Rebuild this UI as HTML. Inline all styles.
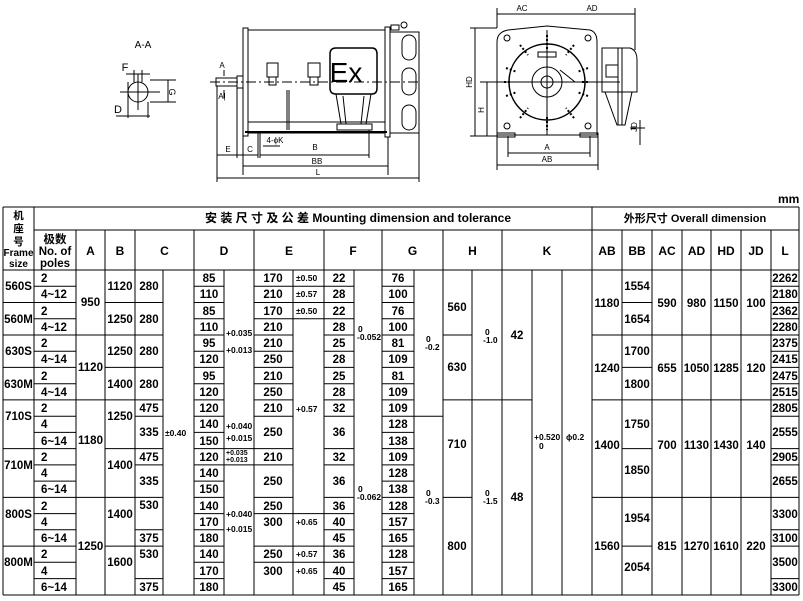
<!DOCTYPE html>
<html><head><meta charset="utf-8"><style>
html,body{margin:0;padding:0;background:#fff;}
svg{display:block;}
text{font-family:"Liberation Sans","Noto Sans CJK SC",sans-serif;font-weight:bold;fill:#000;}
.t{font-size:11.5px;text-anchor:middle;}
.p{font-size:11.5px;}
.s{font-size:8.5px;}
.h{font-size:12px;text-anchor:middle;}
.d{font-size:8px;font-weight:normal;text-anchor:middle;}
</style></head><body>
<svg width="803" height="601" viewBox="0 0 803 601" xmlns="http://www.w3.org/2000/svg">
<!-- ===== DRAWINGS ===== -->
<g stroke="#000" fill="none" stroke-width="1">
<!-- A-A section -->
<circle cx="138" cy="92" r="10"/>
<line x1="120" y1="92" x2="160" y2="92"/>
<line x1="138" y1="74" x2="138" y2="110"/>
<line x1="134" y1="70" x2="134" y2="82"/><line x1="142" y1="70" x2="142" y2="82"/>
<line x1="126" y1="74" x2="150" y2="74"/>
<line x1="150" y1="80" x2="176" y2="80"/><line x1="150" y1="102" x2="176" y2="102"/>
<line x1="168" y1="80" x2="168" y2="102"/>
<line x1="128" y1="82" x2="128" y2="118"/><line x1="148" y1="102" x2="148" y2="118"/>
<line x1="116" y1="116" x2="150" y2="116"/>
<!-- side view -->
<rect x="243" y="28" width="5" height="108"/>
<rect x="248" y="30" width="137" height="103"/>
<rect x="385" y="27" width="5" height="110"/>
<rect x="390" y="32" width="29" height="101"/>
<rect x="402" y="35" width="14" height="25" rx="7"/>
<rect x="402" y="68" width="14" height="27" rx="7"/>
<rect x="402" y="105" width="14" height="25" rx="7"/>
<rect x="216" y="78" width="21" height="8"/>
<rect x="237" y="76" width="6" height="12"/>
<line x1="210" y1="82" x2="420" y2="82" stroke-dasharray="10,3,2,3"/>
<line x1="248" y1="122" x2="385" y2="122"/>
<line x1="245" y1="132" x2="387" y2="132" stroke-width="2"/>
<path d="M336 48 H372 Q377 48 377 54 V88 Q377 94 372 94 H336 Q330 94 330 88 V54 Q330 48 336 48Z" stroke-width="1.5"/>
<path d="M336 94 L341 124 M371 94 L366 124 M343 96 L346 124 M364 96 L361 124"/>
<rect x="337" y="124" width="35" height="6"/>
<rect x="267" y="63" width="11" height="14"/><rect x="269" y="77" width="7" height="8"/>
<rect x="308" y="63" width="12" height="14"/><rect x="310" y="77" width="8" height="8"/>
<line x1="287" y1="90" x2="287" y2="130"/><line x1="289" y1="90" x2="289" y2="130"/>
<rect x="391" y="25" width="8" height="5"/><circle cx="404" cy="25" r="3"/>
<!-- side dims -->
<line x1="217" y1="86" x2="217" y2="182"/>
<line x1="237" y1="88" x2="237" y2="158"/>
<line x1="243" y1="136" x2="243" y2="175"/>
<line x1="258" y1="132" x2="258" y2="158"/><line x1="260" y1="132" x2="260" y2="158"/>
<line x1="369" y1="130" x2="369" y2="158"/>
<line x1="388" y1="137" x2="388" y2="175"/>
<line x1="419" y1="133" x2="419" y2="182"/>
<line x1="217" y1="155" x2="237" y2="155"/>
<line x1="237" y1="155" x2="258" y2="155"/>
<line x1="260" y1="155" x2="369" y2="155"/>
<line x1="243" y1="166" x2="388" y2="166"/>
<line x1="217" y1="178" x2="419" y2="178"/>
<line x1="263" y1="146" x2="280" y2="146"/>
<line x1="224" y1="70" x2="224" y2="76"/><line x1="224" y1="90" x2="224" y2="98"/>
<!-- end view -->
<path d="M497 135 V42 Q497 32 508 30 L547 26 L590 30 Q597 32 597 42 V135 Z"/>
<circle cx="547" cy="82" r="38" stroke-width="1.5"/>
<circle cx="547" cy="82" r="15"/><circle cx="547" cy="82" r="6"/>
<circle cx="507" cy="38" r="3"/><circle cx="588" cy="38" r="3"/>
<circle cx="507" cy="126" r="3"/><circle cx="588" cy="126" r="3"/>
<rect x="497" y="133" width="18" height="4"/><rect x="580" y="133" width="18" height="4"/>
<rect x="538" y="52" width="18" height="5"/>
<line x1="547" y1="30" x2="547" y2="135"/>
<line x1="480" y1="82" x2="620" y2="82"/>
<line x1="560" y1="70" x2="575" y2="82"/>
<path d="M602 48 H630 Q637 50 637 60 V92 H602 Z"/>
<path d="M605 92 L617 125 H625 L632 92"/>
<line x1="618" y1="48" x2="618" y2="125"/><line x1="622" y1="48" x2="622" y2="125"/>
<rect x="606" y="65" width="12" height="12"/>
<!-- scattered coil marks -->
<g stroke-width="2" stroke-dasharray="2,2">
<path d="M547 35 V50 M520 45 L528 55 M574 45 L566 55 M506 68 L517 72 M588 68 L577 72 M506 96 L517 92 M588 96 L577 92 M520 118 L528 108 M574 118 L566 108 M547 117 V130 M504 82 H512 M582 82 H590"/>
</g>
<!-- end dims -->
<line x1="497" y1="8" x2="497" y2="28"/><line x1="635" y1="8" x2="635" y2="50"/>
<line x1="497" y1="14" x2="547" y2="14"/><line x1="547" y1="14" x2="635" y2="14"/>
<line x1="470" y1="28" x2="497" y2="28"/><line x1="470" y1="136" x2="497" y2="136"/>
<line x1="475" y1="28" x2="475" y2="136"/>
<line x1="487" y1="82" x2="487" y2="136"/>
<line x1="508" y1="136" x2="508" y2="157"/><line x1="590" y1="136" x2="590" y2="157"/>
<line x1="508" y1="153" x2="590" y2="153"/>
<line x1="497" y1="137" x2="497" y2="170"/><line x1="598" y1="137" x2="598" y2="170"/>
<line x1="497" y1="165" x2="598" y2="165"/>
<line x1="640" y1="120" x2="640" y2="145"/><line x1="630" y1="128" x2="645" y2="128"/>
</g>
<g>
<text x="143" y="48" class="h" style="font-size:10px;font-weight:normal">A-A</text>
<text x="125" y="71" class="h" style="font-size:11px;font-weight:normal">F</text>
<text x="118" y="113" class="h" style="font-size:11px;font-weight:normal">D</text>
<text x="172" y="95" class="h" style="font-size:9px;font-weight:normal" transform="rotate(90 172 92)">G</text>
<text x="222" y="68" class="d">A</text><text x="222" y="99" class="d">A|</text>
<text x="228" y="152" class="d">E</text><text x="250" y="152" class="d">C</text>
<text x="275" y="143" class="d">4-ϕK</text>
<text x="315" y="150" class="d">B</text><text x="317" y="164" class="d">BB</text><text x="318" y="175" class="d">L</text>
<text x="522" y="11" class="d">AC</text><text x="592" y="11" class="d">AD</text>
<text x="472" y="82" class="d" transform="rotate(-90 472 82)">HD</text>
<text x="484" y="110" class="d" transform="rotate(-90 484 110)">H</text>
<text x="547" y="150" class="d">A</text><text x="547" y="162" class="d">AB</text>
<text x="637" y="127" class="d" transform="rotate(-90 637 127)">JD</text>
<text x="346" y="82" style="font-size:28px;font-weight:normal;text-anchor:middle">Ex</text>
</g>

<!-- ===== TABLE ===== -->
<text x="778" y="203" style="font-size:12px">mm</text>
<g stroke="#000" stroke-width="1" fill="none">
<line x1="3" y1="207" x2="799" y2="207"/>
<line x1="34" y1="230" x2="799" y2="230"/>
<line x1="3" y1="270" x2="799" y2="270"/>
<line x1="3" y1="595" x2="799" y2="595"/>
<line x1="3" y1="207" x2="3" y2="595"/><line x1="34" y1="207" x2="34" y2="595"/>
<line x1="592" y1="207" x2="592" y2="595"/><line x1="799" y1="207" x2="799" y2="595"/>
<path d="M76 230V595M105 230V595M135 230V595M194 230V595M254 230V595M324 230V595M382 230V595M443 230V595M502 230V595M622 230V595M652 230V595M682 230V595M711 230V595M741 230V595M771 230V595"/>
<path d="M163 270V595M224 270V595M293 270V595M354 270V595M414 270V595M472 270V595M532 270V595M562 270V595"/>
<!-- frame -->
<path d="M3 302.5H34M3 335H34M3 367.4H34M3 399.9H34M3 448.6H34M3 497.4H34M3 546.1H34"/>
<!-- poles -->
<path d="M34 286.2H76M34 302.5H76M34 318.7H76M34 335H76M34 351.2H76M34 367.4H76M34 383.7H76M34 399.9H76M34 416.2H76M34 432.4H76M34 448.6H76M34 464.9H76M34 481.1H76M34 497.4H76M34 513.6H76M34 529.8H76M34 546.1H76M34 562.3H76M34 578.6H76"/>
<!-- A -->
<path d="M76 335H105M76 399.9H105M76 497.4H105"/>
<!-- B -->
<path d="M105 302.5H135M105 335H135M105 367.4H135M105 399.9H135M105 448.6H135M105 497.4H135M105 546.1H135"/>
<!-- C -->
<path d="M135 302.5H163M135 335H163M135 367.4H163M135 399.9H163M135 416.2H163M135 448.6H163M135 464.9H163M135 497.4H163M135 529.8H163M135 546.1H163M135 578.6H163"/>
<!-- Dv -->
<path d="M194 286.2H224M194 302.5H224M194 318.7H224M194 335H224M194 351.2H224M194 367.4H224M194 383.7H224M194 399.9H224M194 416.2H224M194 432.4H224M194 448.6H224M194 464.9H224M194 481.1H224M194 497.4H224M194 513.6H224M194 529.8H224M194 546.1H224M194 562.3H224M194 578.6H224"/>
<!-- Dt -->
<path d="M224 448.6H254M224 464.9H254"/>
<!-- Ev -->
<path d="M254 286.2H293M254 302.5H293M254 318.7H293M254 335H293M254 351.2H293M254 367.4H293M254 383.7H293M254 399.9H293M254 416.2H293M254 448.6H293M254 464.9H293M254 497.4H293M254 513.6H293M254 546.1H293M254 562.3H293"/>
<!-- Et -->
<path d="M293 286.2H324M293 302.5H324M293 318.7H324M293 513.6H324M293 546.1H324M293 562.3H324"/>
<!-- Fv -->
<path d="M324 286.2H354M324 302.5H354M324 318.7H354M324 335H354M324 351.2H354M324 367.4H354M324 383.7H354M324 399.9H354M324 416.2H354M324 448.6H354M324 464.9H354M324 497.4H354M324 513.6H354M324 529.8H354M324 546.1H354M324 562.3H354M324 578.6H354"/>
<!-- Gv -->
<path d="M382 286.2H414M382 302.5H414M382 318.7H414M382 335H414M382 351.2H414M382 367.4H414M382 383.7H414M382 399.9H414M382 416.2H414M382 432.4H414M382 448.6H414M382 464.9H414M382 481.1H414M382 497.4H414M382 513.6H414M382 529.8H414M382 546.1H414M382 562.3H414M382 578.6H414"/>
<path d="M414 416.2H443"/>
<path d="M443 335H472M443 399.9H472M443 497.4H472"/>
<path d="M472 399.9H502M502 399.9H532"/>
<path d="M592 335H622M592 399.9H622M592 497.4H622"/>
<path d="M622 302.5H652M622 335H652M622 367.4H652M622 399.9H652M622 448.6H652M622 497.4H652M622 546.1H652"/>
<path d="M652 335H771M652 399.9H771M652 497.4H771"/>
<path d="M771 286.2H799M771 302.5H799M771 318.7H799M771 335H799M771 351.2H799M771 367.4H799M771 383.7H799M771 399.9H799M771 416.2H799M771 448.6H799M771 464.9H799M771 497.4H799M771 529.8H799M771 546.1H799M771 578.6H799"/>
</g>

<!-- headers -->
<text x="358" y="222" class="h">安 装 尺 寸 及 公 差 Mounting dimension and tolerance</text>
<text x="695" y="222" class="h" style="font-size:11px">外形尺寸 Overall dimension</text>
<g class="h" style="font-size:10.5px">
<text x="18.5" y="219" class="h" style="font-size:10.5px">机</text>
<text x="18.5" y="232" class="h" style="font-size:10.5px">座</text>
<text x="18.5" y="245" class="h" style="font-size:10.5px">号</text>
<text x="18.5" y="256" class="h" style="font-size:10px">Frame</text>
<text x="18.5" y="267" class="h" style="font-size:10px">size</text>
</g>
<text x="55" y="243" class="h" style="font-size:11.5px">极数</text>
<text x="55" y="255" class="h" style="font-size:11.5px">No. of</text>
<text x="55" y="267" class="h" style="font-size:11.5px">poles</text>
<g class="h" style="font-size:12px">
<text x="90.5" y="255" class="h">A</text><text x="120" y="255" class="h">B</text><text x="164.5" y="255" class="h">C</text>
<text x="224" y="255" class="h">D</text><text x="289" y="255" class="h">E</text><text x="353" y="255" class="h">F</text>
<text x="412.5" y="255" class="h">G</text><text x="472.5" y="255" class="h">H</text><text x="547" y="255" class="h">K</text>
<text x="607" y="255" class="h">AB</text><text x="637" y="255" class="h">BB</text><text x="667" y="255" class="h">AC</text>
<text x="696.5" y="255" class="h">AD</text><text x="726" y="255" class="h">HD</text><text x="756" y="255" class="h">JD</text>
<text x="785" y="255" class="h">L</text>
</g>

<!-- frame sizes -->
<g class="t">
<text x="18.5" y="290" class="t">560S</text><text x="18.5" y="323" class="t">560M</text>
<text x="18.5" y="355" class="t">630S</text><text x="18.5" y="388" class="t">630M</text>
<text x="18.5" y="420" class="t">710S</text><text x="18.5" y="469" class="t">710M</text>
<text x="18.5" y="518" class="t">800S</text><text x="18.5" y="566" class="t">800M</text>
</g>
<!-- poles -->
<g>
<text x="41" y="282" class="p">2</text><text x="41" y="298" class="p">4~12</text>
<text x="41" y="315" class="p">2</text><text x="41" y="331" class="p">4~12</text>
<text x="41" y="347" class="p">2</text><text x="41" y="363" class="p">4~14</text>
<text x="41" y="380" class="p">2</text><text x="41" y="396" class="p">4~14</text>
<text x="41" y="412" class="p">2</text><text x="41" y="428" class="p">4</text><text x="41" y="445" class="p">6~14</text>
<text x="41" y="461" class="p">2</text><text x="41" y="477" class="p">4</text><text x="41" y="493" class="p">6~14</text>
<text x="41" y="510" class="p">2</text><text x="41" y="526" class="p">4</text><text x="41" y="542" class="p">6~14</text>
<text x="41" y="558" class="p">2</text><text x="41" y="575" class="p">4</text><text x="41" y="591" class="p">6~14</text>
</g>
<!-- A B -->
<text x="90.5" y="306" class="t">950</text><text x="90.5" y="371" class="t">1120</text>
<text x="90.5" y="444" class="t">1180</text><text x="90.5" y="550" class="t">1250</text>
<text x="120" y="290" class="t">1120</text><text x="120" y="323" class="t">1250</text>
<text x="120" y="355" class="t">1250</text><text x="120" y="388" class="t">1400</text>
<text x="120" y="420" class="t">1250</text><text x="120" y="469" class="t">1400</text>
<text x="120" y="518" class="t">1400</text><text x="120" y="566" class="t">1600</text>
<!-- C -->
<text x="149" y="290" class="t">280</text><text x="149" y="323" class="t">280</text>
<text x="149" y="355" class="t">280</text><text x="149" y="388" class="t">280</text>
<text x="149" y="412" class="t">475</text><text x="149" y="436" class="t">335</text>
<text x="149" y="461" class="t">475</text><text x="149" y="485" class="t">335</text>
<text x="149" y="509" class="t">530</text><text x="149" y="542" class="t">375</text>
<text x="149" y="558" class="t">530</text><text x="149" y="591" class="t">375</text>
<text x="165" y="436" class="s">±0.40</text>
<!-- D -->
<g>
<text x="209" y="282" class="t">85</text><text x="209" y="298" class="t">110</text><text x="209" y="315" class="t">85</text><text x="209" y="331" class="t">110</text>
<text x="209" y="347" class="t">95</text><text x="209" y="363" class="t">120</text><text x="209" y="380" class="t">95</text><text x="209" y="396" class="t">120</text>
<text x="209" y="412" class="t">120</text><text x="209" y="428" class="t">140</text><text x="209" y="445" class="t">150</text>
<text x="209" y="461" class="t">120</text><text x="209" y="477" class="t">140</text><text x="209" y="493" class="t">150</text>
<text x="209" y="510" class="t">140</text><text x="209" y="526" class="t">170</text><text x="209" y="542" class="t">180</text>
<text x="209" y="558" class="t">140</text><text x="209" y="575" class="t">170</text><text x="209" y="591" class="t">180</text>
</g>
<text x="226" y="336" class="s">+0.035</text><text x="226" y="353" class="s">+0.013</text>
<text x="226" y="429" class="s">+0.040</text><text x="226" y="441" class="s">+0.015</text>
<text x="226" y="455" class="s" style="font-size:7px">+0.035</text><text x="226" y="462" class="s" style="font-size:7px">+0.013</text>
<text x="226" y="517" class="s">+0.040</text><text x="226" y="532" class="s">+0.015</text>
<!-- E -->
<g>
<text x="273" y="282" class="t">170</text><text x="273" y="298" class="t">210</text><text x="273" y="315" class="t">170</text><text x="273" y="331" class="t">210</text>
<text x="273" y="347" class="t">210</text><text x="273" y="363" class="t">250</text><text x="273" y="380" class="t">210</text><text x="273" y="396" class="t">250</text>
<text x="273" y="412" class="t">210</text><text x="273" y="436" class="t">250</text><text x="273" y="461" class="t">210</text><text x="273" y="485" class="t">250</text>
<text x="273" y="510" class="t">250</text><text x="273" y="526" class="t">300</text><text x="273" y="558" class="t">250</text><text x="273" y="575" class="t">300</text>
</g>
<text x="296" y="281" class="s">±0.50</text><text x="296" y="297" class="s">±0.57</text><text x="296" y="314" class="s">±0.50</text>
<text x="296" y="412" class="s">+0.57</text><text x="296" y="525" class="s">+0.65</text>
<text x="296" y="557" class="s">+0.57</text><text x="296" y="574" class="s">+0.65</text>
<!-- F -->
<g>
<text x="339" y="282" class="t">22</text><text x="339" y="298" class="t">28</text><text x="339" y="315" class="t">22</text><text x="339" y="331" class="t">28</text>
<text x="339" y="347" class="t">25</text><text x="339" y="363" class="t">28</text><text x="339" y="380" class="t">25</text><text x="339" y="396" class="t">28</text>
<text x="339" y="412" class="t">32</text><text x="339" y="436" class="t">36</text><text x="339" y="461" class="t">32</text><text x="339" y="485" class="t">36</text>
<text x="339" y="510" class="t">36</text><text x="339" y="526" class="t">40</text><text x="339" y="542" class="t">45</text>
<text x="339" y="558" class="t">36</text><text x="339" y="575" class="t">40</text><text x="339" y="591" class="t">45</text>
</g>
<text x="358" y="332" class="s">0</text><text x="357" y="340" class="s">-0.052</text>
<text x="358" y="492" class="s">0</text><text x="357" y="500" class="s">-0.062</text>
<!-- G -->
<g>
<text x="398" y="282" class="t">76</text><text x="398" y="298" class="t">100</text><text x="398" y="315" class="t">76</text><text x="398" y="331" class="t">100</text>
<text x="398" y="347" class="t">81</text><text x="398" y="363" class="t">109</text><text x="398" y="380" class="t">81</text><text x="398" y="396" class="t">109</text>
<text x="398" y="412" class="t">109</text><text x="398" y="428" class="t">128</text><text x="398" y="445" class="t">138</text>
<text x="398" y="461" class="t">109</text><text x="398" y="477" class="t">128</text><text x="398" y="493" class="t">138</text>
<text x="398" y="510" class="t">128</text><text x="398" y="526" class="t">157</text><text x="398" y="542" class="t">165</text>
<text x="398" y="558" class="t">128</text><text x="398" y="575" class="t">157</text><text x="398" y="591" class="t">165</text>
</g>
<text x="426" y="342" class="s">0</text><text x="425" y="350" class="s">-0.2</text>
<text x="426" y="496" class="s">0</text><text x="425" y="504" class="s">-0.3</text>
<!-- H K -->
<text x="457" y="311" class="t">560</text><text x="457" y="371" class="t">630</text>
<text x="457" y="448" class="t">710</text><text x="457" y="550" class="t">800</text>
<text x="485" y="335" class="s">0</text><text x="483" y="343" class="s">-1.0</text>
<text x="485" y="496" class="s">0</text><text x="483" y="504" class="s">-1.5</text>
<text x="517" y="339" class="t">42</text><text x="517" y="501" class="t">48</text>
<text x="534" y="440" class="s">+0.520</text><text x="539" y="449" class="s">0</text>
<text x="566" y="440" class="s">ϕ0.2</text>
<!-- AB BB -->
<text x="607" y="307" class="t">1180</text><text x="607" y="372" class="t">1240</text>
<text x="607" y="449" class="t">1400</text><text x="607" y="550" class="t">1560</text>
<text x="637" y="290" class="t">1554</text><text x="637" y="323" class="t">1654</text>
<text x="637" y="355" class="t">1700</text><text x="637" y="388" class="t">1800</text>
<text x="637" y="428" class="t">1750</text><text x="637" y="474" class="t">1850</text>
<text x="637" y="522" class="t">1954</text><text x="637" y="571" class="t">2054</text>
<!-- AC AD HD JD -->
<text x="667" y="307" class="t">590</text><text x="696.5" y="307" class="t">980</text><text x="726" y="307" class="t">1150</text><text x="756" y="307" class="t">100</text>
<text x="667" y="372" class="t">655</text><text x="696.5" y="372" class="t">1050</text><text x="726" y="372" class="t">1285</text><text x="756" y="372" class="t">120</text>
<text x="667" y="449" class="t">700</text><text x="696.5" y="449" class="t">1130</text><text x="726" y="449" class="t">1430</text><text x="756" y="449" class="t">140</text>
<text x="667" y="550" class="t">815</text><text x="696.5" y="550" class="t">1270</text><text x="726" y="550" class="t">1610</text><text x="756" y="550" class="t">220</text>
<!-- L -->
<g>
<text x="785" y="282" class="t">2262</text><text x="785" y="298" class="t">2180</text><text x="785" y="315" class="t">2362</text><text x="785" y="331" class="t">2280</text>
<text x="785" y="347" class="t">2375</text><text x="785" y="363" class="t">2415</text><text x="785" y="380" class="t">2475</text><text x="785" y="396" class="t">2515</text>
<text x="785" y="412" class="t">2805</text><text x="785" y="436" class="t">2555</text><text x="785" y="461" class="t">2905</text>
<text x="785" y="485" class="t">2655</text><text x="785" y="518" class="t">3300</text><text x="785" y="542" class="t">3100</text>
<text x="785" y="566" class="t">3500</text><text x="785" y="591" class="t">3300</text>
</g>
</svg>
</body></html>
